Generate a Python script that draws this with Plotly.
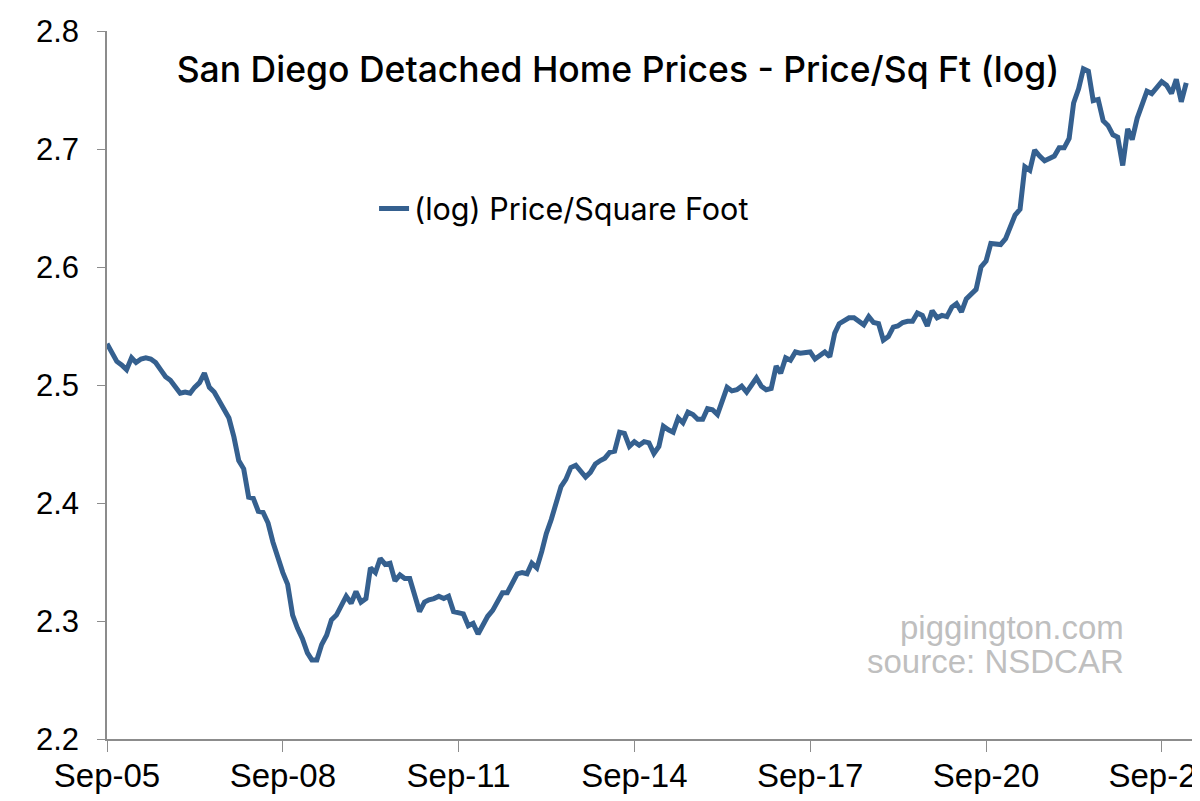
import pandas as pd
import plotly.graph_objects as go

# Monthly (log) price per square foot, Sep-2005 onward
start_month = "2005-09-01"
log_price_sqft = [
    2.535, 2.528, 2.520, 2.517, 2.513, 2.523, 2.519, 2.522, 2.523, 2.522,
    2.519, 2.513, 2.507, 2.504, 2.498, 2.493, 2.494, 2.493, 2.498, 2.502,
    2.510, 2.498, 2.494, 2.487, 2.480, 2.472, 2.456, 2.436, 2.429, 2.405,
    2.404, 2.393, 2.392, 2.383, 2.367, 2.353, 2.341, 2.331, 2.305, 2.294,
    2.285, 2.273, 2.267, 2.267, 2.280, 2.288, 2.301, 2.305, 2.314, 2.321,
    2.315, 2.325, 2.316, 2.319, 2.345, 2.341, 2.353, 2.348, 2.349, 2.334,
    2.339, 2.336, 2.336, 2.322, 2.308, 2.316, 2.318, 2.319, 2.321, 2.319,
    2.321, 2.308, 2.307, 2.306, 2.296, 2.298, 2.289, 2.298, 2.304, 2.309,
    2.316, 2.324, 2.324, 2.333, 2.340, 2.341, 2.340, 2.349, 2.345, 2.359,
    2.374, 2.386, 2.401, 2.414, 2.420, 2.430, 2.432, 2.427, 2.422, 2.426,
    2.433, 2.436, 2.438, 2.443, 2.444, 2.460, 2.459, 2.448, 2.452, 2.449,
    2.452, 2.451, 2.442, 2.448, 2.465, 2.462, 2.460, 2.472, 2.468, 2.477,
    2.475, 2.471, 2.471, 2.480, 2.479, 2.475, 2.486, 2.498, 2.495, 2.496,
    2.499, 2.494, 2.500, 2.506, 2.499, 2.496, 2.497, 2.516, 2.510, 2.523,
    2.521, 2.528, 2.527, 2.527, 2.528, 2.522, 2.525, 2.528, 2.524, 2.544,
    2.552, 2.555, 2.557, 2.557, 2.554, 2.551, 2.558, 2.553, 2.552, 2.538,
    2.541, 2.549, 2.550, 2.553, 2.554, 2.554, 2.561, 2.559, 2.550, 2.563,
    2.557, 2.559, 2.558, 2.566, 2.569, 2.562, 2.573, 2.577, 2.581, 2.600,
    2.605, 2.620, 2.619, 2.619, 2.624, 2.636, 2.644, 2.649, 2.685, 2.682,
    2.699, 2.694, 2.690, 2.692, 2.694, 2.701, 2.701, 2.709, 2.739, 2.751,
    2.768, 2.766, 2.741, 2.742, 2.724, 2.720, 2.712, 2.710, 2.686, 2.717,
    2.708, 2.726, 2.738, 2.749, 2.747, 2.752, 2.757, 2.754, 2.747, 2.759,
    2.740, 2.756,
]
months = pd.date_range(start_month, periods=len(log_price_sqft), freq="MS")

series_name = "(log) Price/Square Foot"
title_text = "San Diego Detached Home Prices - Price/Sq Ft (log)"
watermark_lines = ["piggington.com", "source: NSDCAR"]
y_ticks = [2.2, 2.3, 2.4, 2.5, 2.6, 2.7, 2.8]

LINE_COLOR = "#35608f"
AXIS_COLOR = "#8c8c8c"
SANS = "Liberation Sans, Arial, sans-serif"
TEXT_FAMILY = "Inter, Lato, sans-serif"

x_range = ["2005-09-01", "2024-04-08"]

# the page body has an 8px margin, so the figure is 8px smaller than the window
FIG_W, FIG_H = 1192, 793

fig = go.Figure()
fig.add_trace(go.Scatter(
    x=months, y=log_price_sqft, mode="lines", name=series_name,
    line=dict(color=LINE_COLOR, width=5),
))

fig.update_layout(
    width=FIG_W, height=FIG_H,
    margin=dict(l=99, r=3, t=23, b=62, autoexpand=False),
    paper_bgcolor="white", plot_bgcolor="white",
    title=dict(text=title_text, x=610 / FIG_W, xanchor="center", y=1 - 62 / FIG_H,
               yanchor="middle",
               font=dict(family=TEXT_FAMILY, size=35.5, weight=500, color="#000000")),
    showlegend=True,
    legend=dict(x=0.245, y=0.749, xanchor="left", yanchor="middle",
                bgcolor="rgba(0,0,0,0)",
                font=dict(family=TEXT_FAMILY, size=30.5, color="#000000")),
    xaxis=dict(
        type="date", range=x_range, tick0="2005-09-01", dtick="M36",
        tickformat="%b-%y", ticks="outside", ticklen=11, tickwidth=1, tickcolor=AXIS_COLOR,
        showline=True, linecolor=AXIS_COLOR, linewidth=1.5, showgrid=False, zeroline=False,
        tickfont=dict(family=SANS, size=33, color="#000000"), ticklabelstandoff=-4,
        ticklabeloverflow="allow", automargin=False,
    ),
    xaxis2=dict(
        type="date", range=x_range, overlaying="x", anchor="y", tick0="2005-09-01",
        dtick="M12", ticks="inside", ticklen=6, tickcolor=AXIS_COLOR,
        showticklabels=False, showgrid=False, zeroline=False, showline=False,
        automargin=False,
    ),
    yaxis=dict(
        range=[2.2, 2.8], tickvals=y_ticks, tickformat=".1f", ticks="outside", ticklen=8,
        tickcolor=AXIS_COLOR, showline=True, linecolor=AXIS_COLOR, linewidth=1.5,
        showgrid=False, zeroline=False, tickfont=dict(family=SANS, size=31, color="#000000"),
        ticklabelstandoff=12, automargin=False,
    ),
)

for txt, yp in zip(watermark_lines, [0.158, 0.110]):
    fig.add_annotation(text=txt, xref="paper", yref="paper", x=0.935, y=yp,
                       xanchor="right", yanchor="middle", showarrow=False,
                       font=dict(family=SANS, size=33, color="#bfbfbf"))

fig.write_html("out.html")
